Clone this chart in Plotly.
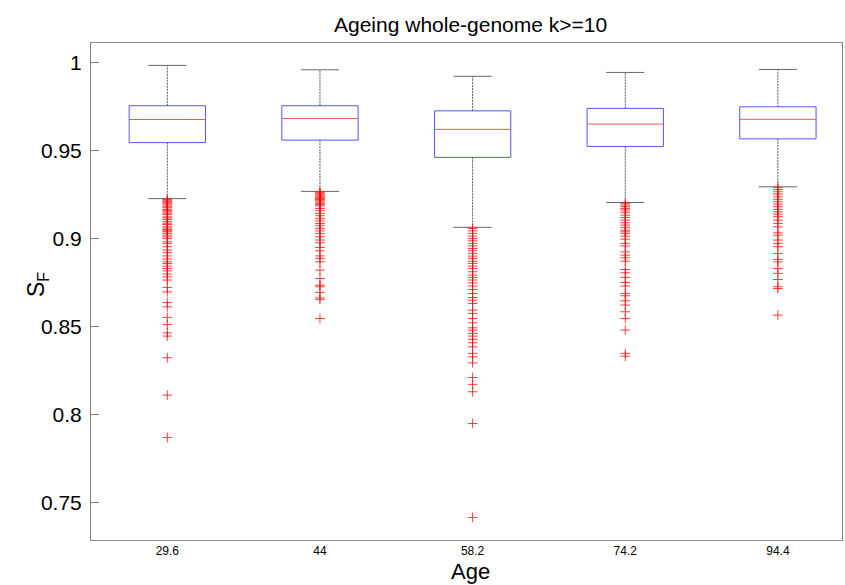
import plotly.graph_objects as go

# Age groups and per-group box statistics of S_F
ages = ["29.6", "44", "58.2", "74.2", "94.4"]
q1 = [0.9545, 0.9559, 0.9461, 0.9523, 0.9566]
median = [0.9676, 0.9682, 0.9620, 0.9650, 0.9677]
q3 = [0.9754, 0.9754, 0.9725, 0.9739, 0.9748]
upper_whisker = [0.9983, 0.9958, 0.9921, 0.9943, 0.9960]
lower_whisker = [0.9227, 0.9268, 0.9064, 0.9205, 0.9294]

# Outliers below the lower whisker, per group
outliers_29_6 = [
    0.9222, 0.9215, 0.9210, 0.9203, 0.9198, 0.9190, 0.9181, 0.9175, 0.9166,
    0.9160, 0.9152, 0.9145, 0.9137, 0.9124, 0.9117, 0.9109, 0.9096, 0.9087,
    0.9080, 0.9067, 0.9060, 0.9052, 0.9045, 0.9039, 0.9030, 0.9020, 0.9010,
    0.9001, 0.8982, 0.8973, 0.8954, 0.8935, 0.8920, 0.8902, 0.8884, 0.8868,
    0.8859, 0.8844, 0.8831, 0.8817, 0.8799, 0.8783, 0.8765, 0.8723, 0.8698,
    0.8638, 0.8613, 0.8553, 0.8513, 0.8465, 0.8447, 0.8324, 0.8112, 0.7872,
]
outliers_44 = [
    0.9264, 0.9259, 0.9253, 0.9247, 0.9241, 0.9234, 0.9228, 0.9222, 0.9215,
    0.9208, 0.9200, 0.9193, 0.9186, 0.9171, 0.9158, 0.9143, 0.9130, 0.9115,
    0.9101, 0.9086, 0.9073, 0.9058, 0.9044, 0.9030, 0.9010, 0.8992, 0.8976,
    0.8950, 0.8931, 0.8902, 0.8888, 0.8868, 0.8821, 0.8774, 0.8736, 0.8727,
    0.8695, 0.8664, 0.8655, 0.8547,
]
outliers_58_2 = [
    0.9058, 0.9044, 0.9030, 0.9014, 0.9001, 0.8988, 0.8973, 0.8959, 0.8944,
    0.8931, 0.8916, 0.8901, 0.8888, 0.8872, 0.8859, 0.8844, 0.8831, 0.8812,
    0.8793, 0.8780, 0.8765, 0.8749, 0.8731, 0.8712, 0.8689, 0.8666, 0.8651,
    0.8632, 0.8594, 0.8576, 0.8547, 0.8522, 0.8494, 0.8481, 0.8462, 0.8447,
    0.8428, 0.8409, 0.8386, 0.8349, 0.8329, 0.8295, 0.8212, 0.8173, 0.8131,
    0.7951, 0.7418,
]
outliers_74_2 = [
    0.9200, 0.9190, 0.9181, 0.9171, 0.9162, 0.9149, 0.9133, 0.9120, 0.9105,
    0.9090, 0.9077, 0.9064, 0.9048, 0.9039, 0.9030, 0.9014, 0.8997, 0.8973,
    0.8958, 0.8925, 0.8906, 0.8891, 0.8872, 0.8825, 0.8806, 0.8780, 0.8751,
    0.8731, 0.8689, 0.8676, 0.8647, 0.8623, 0.8585, 0.8547, 0.8481, 0.8349,
    0.8333,
]
outliers_94_4 = [
    0.9291, 0.9279, 0.9266, 0.9253, 0.9237, 0.9223, 0.9209, 0.9196, 0.9181,
    0.9166, 0.9152, 0.9139, 0.9124, 0.9105, 0.9086, 0.9067, 0.9033, 0.9020,
    0.8992, 0.8973, 0.8954, 0.8916, 0.8882, 0.8868, 0.8831, 0.8803, 0.8768,
    0.8727, 0.8717, 0.8566,
]
outliers = [outliers_29_6, outliers_44, outliers_58_2, outliers_74_2, outliers_94_4]

y_ticks = [0.75, 0.8, 0.85, 0.9, 0.95, 1.0]
y_tick_text = ["0.75", "0.8", "0.85", "0.9", "0.95", "1"]

BOX_HALF = 0.25
CAP_HALF = 0.125

box_x, box_y = [], []
med_x, med_y = [], []
wh_x, wh_y = [], []
cap_x, cap_y = [], []
out_x, out_y = [], []
for i in range(len(ages)):
    c = i + 1
    box_x += [c - BOX_HALF, c + BOX_HALF, c + BOX_HALF, c - BOX_HALF, c - BOX_HALF, None]
    box_y += [q1[i], q1[i], q3[i], q3[i], q1[i], None]
    med_x += [c - BOX_HALF, c + BOX_HALF, None]
    med_y += [median[i], median[i], None]
    wh_x += [c, c, None, c, c, None]
    wh_y += [q3[i], upper_whisker[i], None, q1[i], lower_whisker[i], None]
    cap_x += [c - CAP_HALF, c + CAP_HALF, None, c - CAP_HALF, c + CAP_HALF, None]
    cap_y += [upper_whisker[i], upper_whisker[i], None, lower_whisker[i], lower_whisker[i], None]
    out_x += [c] * len(outliers[i])
    out_y += outliers[i]

fig = go.Figure()
fig.add_trace(go.Scatter(x=wh_x, y=wh_y, mode="lines",
                         line=dict(color="#555555", width=1, dash="2px,1px"),
                         hoverinfo="skip"))
fig.add_trace(go.Scatter(x=cap_x, y=cap_y, mode="lines",
                         line=dict(color="#666666", width=1), hoverinfo="skip"))
fig.add_trace(go.Scatter(x=box_x, y=box_y, mode="lines",
                         line=dict(color="#5555ff", width=1), hoverinfo="skip"))
fig.add_trace(go.Scatter(x=med_x, y=med_y, mode="lines",
                         line=dict(color="#ee5555", width=1), hoverinfo="skip"))
fig.add_trace(go.Scatter(x=out_x, y=out_y, mode="markers",
                         marker=dict(symbol="cross-thin", size=7,
                                     line=dict(color="rgba(255,0,0,0.75)", width=1)),
                         hoverinfo="skip"))

W, H = 845, 585
ML, MR, MT, MB = 91, 3, 43, 45
pw = W - ML - MR
ph = H - MT - MB


def px_x(px):
    # pixel column -> plot-area fraction
    return (px - ML) / pw


def px_y(py):
    # pixel row -> plot-area fraction (measured from the bottom)
    return (MT + ph - py) / ph


fig.update_layout(
    width=W, height=H,
    margin=dict(l=ML, r=MR, t=MT, b=MB),
    paper_bgcolor="white", plot_bgcolor="white",
    showlegend=False,
    font=dict(family="Liberation Sans, Arial, sans-serif", color="black"),
    xaxis=dict(
        range=[0.5, 5.42], tickvals=[1, 2, 3, 4, 5], ticktext=ages,
        showgrid=False, zeroline=False, ticks="",
        showline=True, linecolor="#8c8c8c", linewidth=1, mirror=True,
        tickfont=dict(size=12, family="Liberation Sans Narrow, Arial Narrow, sans-serif"),
    ),
    yaxis=dict(
        range=[0.729, 1.011], tickvals=y_ticks, ticktext=y_tick_text,
        showgrid=False, zeroline=False, ticks="inside", ticklen=8,
        tickcolor="#7f7f7f", tickwidth=1,
        showline=True, linecolor="#7f7f7f", linewidth=1, mirror=True,
        tickfont=dict(size=21), ticklabelstandoff=4,
    ),
    annotations=[
        dict(text="Ageing whole-genome k>=10", x=px_x(470.5), y=px_y(24),
             xref="paper", yref="paper", showarrow=False, font=dict(size=21),
             xanchor="center", yanchor="middle"),
        dict(text="Age", x=px_x(470), y=px_y(571),
             xref="paper", yref="paper", showarrow=False, font=dict(size=22),
             xanchor="center", yanchor="middle"),
        dict(text="S<sub>F</sub>", x=px_x(37), y=px_y(285),
             xref="paper", yref="paper", showarrow=False, font=dict(size=23),
             textangle=-90, xanchor="center", yanchor="middle"),
    ],
)

fig.write_html("out.html")
